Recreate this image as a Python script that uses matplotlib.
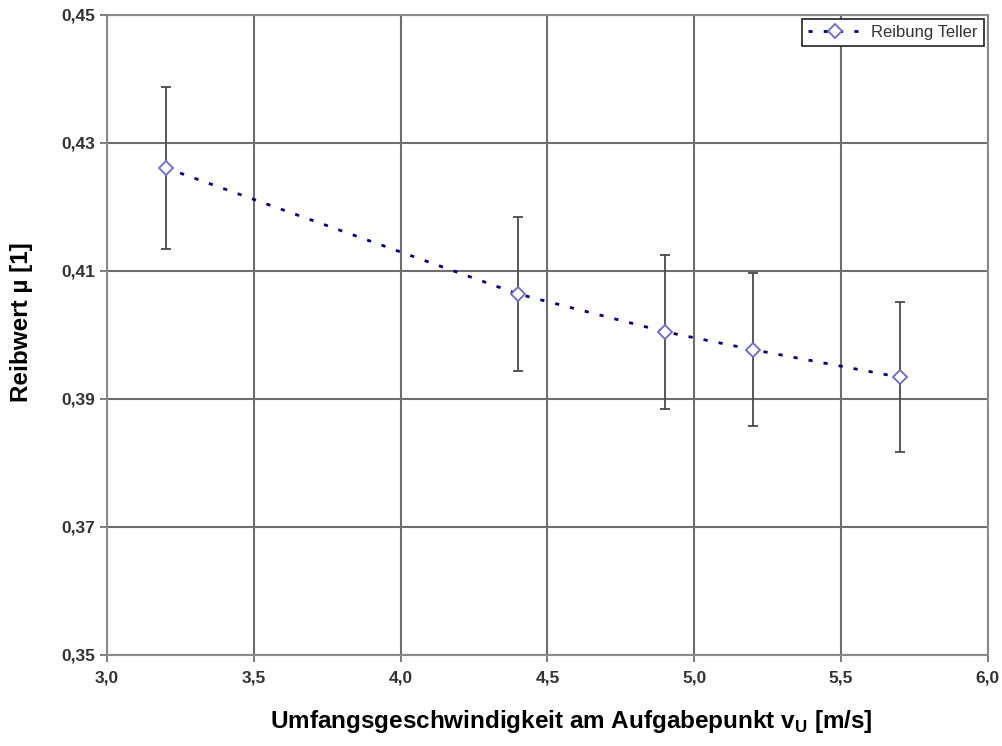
import matplotlib
matplotlib.use("Agg")
import matplotlib.pyplot as plt
from matplotlib.ticker import FuncFormatter, MultipleLocator, FixedLocator

plt.rcParams['font.family'] = ['Liberation Sans', 'DejaVu Sans']
plt.rcParams['mathtext.fontset'] = 'custom'
plt.rcParams['mathtext.rm'] = 'Liberation Sans:bold'
plt.rcParams['mathtext.bf'] = 'Liberation Sans:bold'

# data
speed = [3.2, 4.4, 4.9, 5.2, 5.7]
mu = [0.4261, 0.4064, 0.4005, 0.3977, 0.3934]
mu_err = [0.0127, 0.0121, 0.0120, 0.0120, 0.0117]
y_ticks = [0.35, 0.37, 0.39, 0.41, 0.43, 0.45]
series_label = "Reibung Teller"
x_label = r"Umfangsgeschwindigkeit am Aufgabepunkt v$_\mathrm{U}$ [m/s]"
y_label = "Reibwert µ [1]"

fig = plt.figure(figsize=(10.02, 7.46), dpi=100)
ax = fig.add_axes([0.1068, 0.122, 0.879, 0.858])

ax.errorbar(speed, mu, yerr=mu_err, fmt='none', ecolor='#4a4a4a',
            elinewidth=1.3, capsize=3.5, capthick=1.3, zorder=3)
ax.plot(speed, mu, color='#000080', linestyle=(0, (1.5, 4)), linewidth=2,
        marker='D', markersize=7.5, markerfacecolor='white',
        markeredgecolor='#6a6ad0', markeredgewidth=1.3, label=series_label, zorder=4)

ax.set_xlim(3.0, 6.0)
ax.set_ylim(0.35, 0.45)
ax.xaxis.set_major_locator(MultipleLocator(0.5))
ax.yaxis.set_major_locator(FixedLocator(y_ticks))
ax.xaxis.set_major_formatter(FuncFormatter(lambda v, p: f"{v:.1f}".replace('.', ',')))
ax.yaxis.set_major_formatter(FuncFormatter(lambda v, p: f"{v:.2f}".replace('.', ',')))
ax.grid(True, color='#6e6e6e', linewidth=1.5, zorder=1)
ax.set_axisbelow(True)
for s in ax.spines.values():
    s.set_color('#8a8a8a')
    s.set_linewidth(1.5)
ax.tick_params(axis='both', direction='out', length=5, width=1.2, color='#666666',
               labelsize=12.5, labelcolor='#333333')
ax.tick_params(axis='x', pad=6)
for lbl in ax.get_xticklabels() + ax.get_yticklabels():
    lbl.set_fontweight('bold')

ax.set_xlabel(x_label, fontsize=17.5, fontweight='bold')
ax.set_ylabel(y_label, fontsize=17.5, fontweight='bold')
ax.xaxis.set_label_coords(0.527, -0.083)
ax.yaxis.set_label_coords(-0.084, 0.52)

leg = ax.legend(loc='upper right', fontsize=12, frameon=True, fancybox=False,
                borderaxespad=0.25, handlelength=3.3, framealpha=1,
                borderpad=0.35, handletextpad=0.5)
leg.get_frame().set_edgecolor('#222222')
leg.get_frame().set_linewidth(1.2)
for t in leg.get_texts():
    t.set_color('#333333')

fig.savefig("out.png", dpi=100)
